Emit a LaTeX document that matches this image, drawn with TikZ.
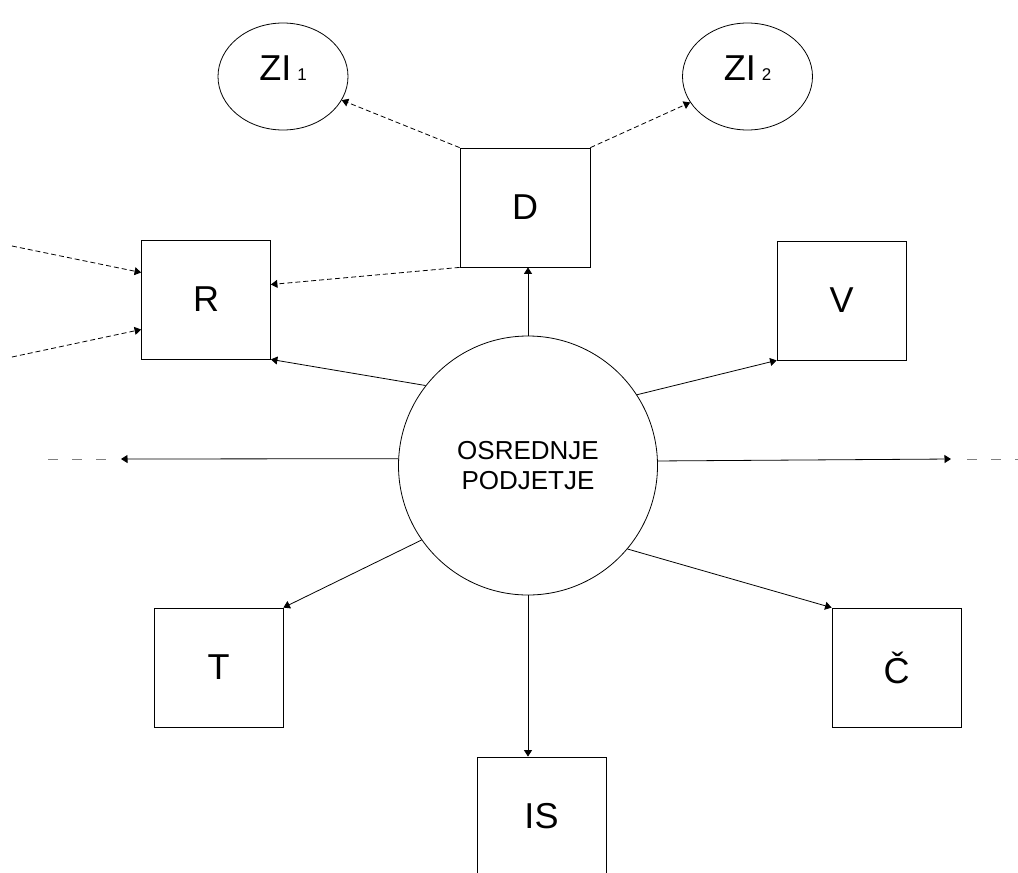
\documentclass[tikz,border=0pt]{standalone}
\usepackage{fontspec}
\setmainfont{Liberation Sans}
\usetikzlibrary{arrows.meta,shapes.geometric}
\begin{document}
\begin{tikzpicture}[x=1pt,y=-1pt,
  box/.style={draw,line width=0.8pt,minimum width=129pt,minimum height=119pt,inner sep=0pt,font=\fontsize{36}{40}\selectfont},
  zi/.style={ellipse,draw,line width=0.8pt,minimum width=130pt,minimum height=107pt,inner sep=0pt,text depth=16pt,font=\fontsize{36}{40}\selectfont},
  hub/.style={circle,draw,line width=0.8pt,minimum size=259pt,inner sep=0pt,align=center,font=\fontsize{26}{30}\selectfont},
  link/.style={line width=0.8pt,-{Triangle[length=6.5pt,width=8pt]}},
  dlink/.style={link,dash pattern=on 5pt off 3pt},
  tail/.style={draw=gray,line width=1pt,dash pattern=on 10pt off 14pt}
]
\clip (0,0) rectangle (1018,873);
\fill[white] (0,0) rectangle (1018,873);

\node[hub] (C) at (528,465.5) {OSREDNJE\\PODJETJE};
\node[zi] (ZI1) at (283,76.5) {ZI\hspace{6pt}{\fontsize{17}{20}\selectfont 1}};
\node[zi] (ZI2) at (747.5,76.5) {ZI\hspace{6pt}{\fontsize{17}{20}\selectfont 2}};
\node[box,minimum width=130pt] (D) at (525,207.5) {D};
\node[box] (R) at (206,299.5) {R};
\node[box] (V) at (841.5,300.5) {V};
\node[box] (T) at (218.5,667.5) {T};
\node[box] (Cc) at (896.5,667.5) {Č};
\node[box] (IS) at (541.5,816.5) {IS};

\draw[dlink] (D.north west) -- (ZI1);
\draw[dlink] (D.north east) -- (ZI2);
\draw[dlink] (D.south west) -- ([yshift=15pt]R.east);
\coordinate (L1) at (12,246);
\coordinate (L2) at (12,357);
\draw[dlink] (L1) -- ([yshift=27pt]R.west);
\draw[dlink] (L2) -- ([yshift=-30pt]R.west);

\draw[link] (C.142.1) -- (R.south east);
\draw[link] (C.north) -- (C.north |- D.south);
\draw[link] (C.33.5) -- (V.south west);
\draw[link] (C.215.1) -- (T.north east);
\draw[link] (C.320.1) -- (Cc.north west);
\draw[link] (C.south) -- (C.south |- IS.north);

\coordinate (WL) at (121,459);
\coordinate (WR) at (951,459);
\draw[link] (C.177.1) -- (WL);
\draw[link] (C.2.9) -- (WR);
\coordinate (WL1) at (48,459);
\coordinate (WL2) at (110,459);
\coordinate (WR1) at (967,459);
\coordinate (WR2) at (1030,459);
\draw[tail] (WL1) -- (WL2);
\draw[tail] (WR1) -- (WR2);
\end{tikzpicture}
\end{document}
